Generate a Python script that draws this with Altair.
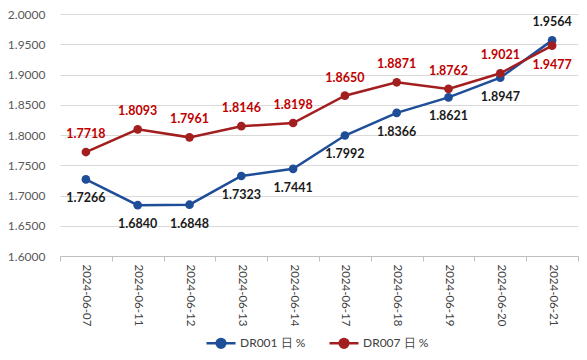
import altair as alt
import pandas as pd

dates = ["2024-06-07", "2024-06-11", "2024-06-12", "2024-06-13", "2024-06-14",
         "2024-06-17", "2024-06-18", "2024-06-19", "2024-06-20", "2024-06-21"]
dr001 = [1.7266, 1.6840, 1.6848, 1.7323, 1.7441, 1.7992, 1.8366, 1.8621, 1.8947, 1.9564]
dr007 = [1.7718, 1.8093, 1.7961, 1.8146, 1.8198, 1.8650, 1.8871, 1.8762, 1.9021, 1.9477]
series = ["DR001 日 %", "DR007 日 %"]
colors = ["#1F4E99", "#A31F1F"]
label_colors = ["#1A1A1A", "#C00000"]

rows = []
for d, a, b in zip(dates, dr001, dr007):
    rows.append({"date": d, "value": a, "series": series[0], "above": a >= b})
    rows.append({"date": d, "value": b, "series": series[1], "above": b > a})
df = pd.DataFrame(rows)

FONT = "Lato"

x = alt.X("date:N", sort=dates, title=None,
          scale=alt.Scale(type="band", paddingInner=0, paddingOuter=0),
          axis=alt.Axis(labelAngle=90, tickBand="extent", grid=False,
                        domainColor="#BFBFBF", tickColor="#BFBFBF", tickSize=5,
                        labelPadding=3, labelFontSize=11.5, labelColor="#404040",
                        labelFont=FONT))
y = alt.Y("value:Q", title=None,
          scale=alt.Scale(domain=[1.6, 2.0], nice=False, zero=False),
          axis=alt.Axis(values=[1.6, 1.65, 1.7, 1.75, 1.8, 1.85, 1.9, 1.95, 2.0],
                        format=".4f", ticks=False, domain=False,
                        gridColor="#D9D9D9", gridWidth=1,
                        labelPadding=15, labelFontSize=12, labelColor="#595959",
                        labelFont=FONT))
color = alt.Color("series:N",
                  scale=alt.Scale(domain=series, range=colors),
                  legend=alt.Legend(title=None, orient="none", direction="horizontal",
                                    legendX=145, legendY=313,
                                    symbolType="M-1,0L1,0M-0.3,0A0.3,0.3 0 1,1 0.3,0A0.3,0.3 0 1,1 -0.3,0",
                                    symbolSize=841, symbolStrokeWidth=2.5,
                                    labelFontSize=12, labelColor="#404040", labelFont=FONT,
                                    columnPadding=18, labelOffset=3))

base = alt.Chart(df)
lines = base.mark_line(strokeWidth=2.5).encode(x=x, y=y, color=color)
points = base.mark_point(filled=True, size=75, opacity=1).encode(x=x, y=y, color=color)

def labels(above, dy):
    return base.transform_filter(
        alt.datum.above if above else ~alt.datum.above
    ).mark_text(fontWeight="bold", fontSize=12.5, font=FONT, dy=dy).encode(
        x=x, y=y, text=alt.Text("value:Q", format=".4f"),
        fill=alt.Fill("series:N", scale=alt.Scale(domain=series, range=label_colors), legend=None),
    )

chart = alt.layer(lines, points, labels(True, -18), labels(False, 19)).properties(
    width=518, height=242,
    autosize=alt.AutoSizeParams(type="none"),
    padding={"left": 52, "top": 6, "right": 1, "bottom": 96},
).configure_view(stroke=None)

chart.save("out.html", embed_options={"renderer": "svg", "actions": False})
